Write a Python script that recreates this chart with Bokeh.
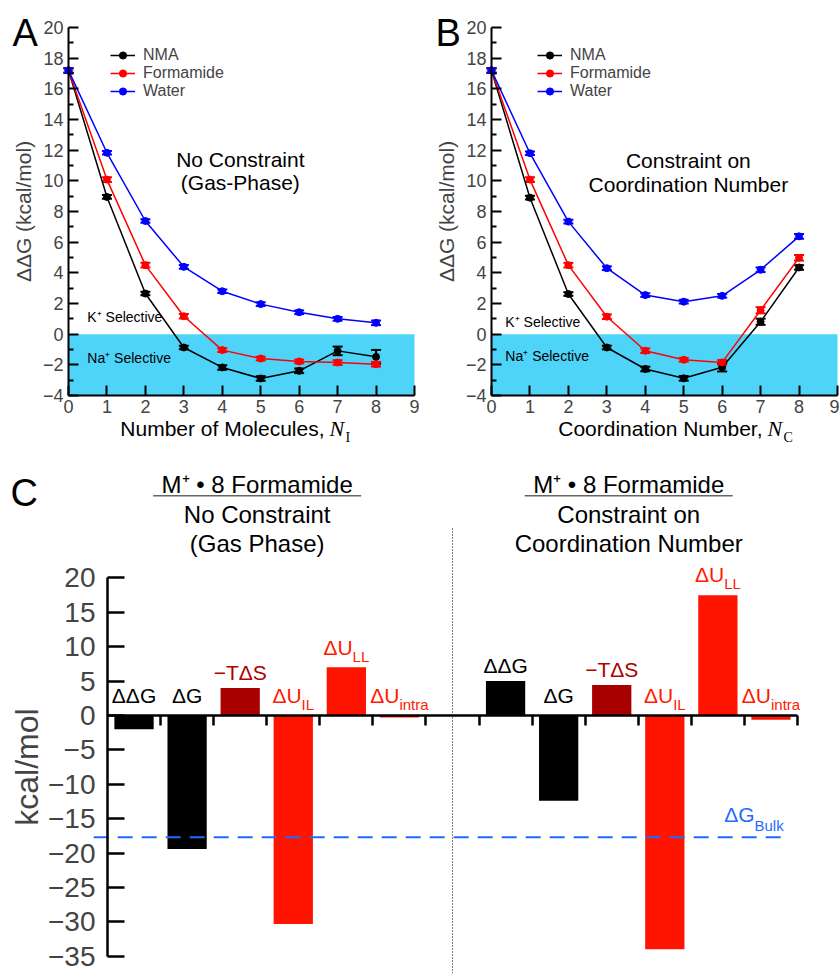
import numpy as np
from bokeh.plotting import figure
from bokeh.models import (Range1d, FixedTicker, LinearAxis, Whisker, TeeHead, ColumnDataSource,
                          BoxAnnotation, Label, Legend, LegendItem, CustomJSTickFormatter)
from bokeh.layouts import column, row
from bokeh.embed import file_html
from bokeh.resources import INLINE
from bokeh.core.properties import value

FONT = "Liberation Sans"
SERIF = "Liberation Serif"

# ---------------- data ----------------
n_values = [0, 1, 2, 3, 4, 5, 6, 7, 8]

# Panel A: no constraint (gas phase), x = number of molecules N_I
nma_A = [17.2, 8.95, 2.65, -0.87, -2.17, -2.89, -2.39, -1.09, -1.48]
nma_A_err = [0.15, 0.12, 0.12, 0.12, 0.15, 0.15, 0.15, 0.28, 0.45]
form_A = [17.2, 10.08, 4.50, 1.17, -1.04, -1.59, -1.78, -1.85, -1.96]
form_A_err = [0.15, 0.15, 0.15, 0.15, 0.12, 0.12, 0.12, 0.15, 0.15]
water_A = [17.2, 11.83, 7.38, 4.39, 2.80, 1.96, 1.43, 1.00, 0.74]
water_A_err = [0.15, 0.12, 0.12, 0.12, 0.12, 0.12, 0.12, 0.12, 0.15]

# Panel B: constraint on coordination number, x = N_C
nma_B = [17.2, 8.90, 2.62, -0.87, -2.27, -2.88, -2.16, 0.81, 4.35]
nma_B_err = [0.15, 0.12, 0.12, 0.12, 0.15, 0.15, 0.27, 0.20, 0.15]
form_B = [17.2, 10.08, 4.50, 1.14, -1.08, -1.67, -1.84, 1.56, 4.98]
form_B_err = [0.15, 0.15, 0.15, 0.15, 0.15, 0.12, 0.15, 0.20, 0.18]
water_B = [17.2, 11.80, 7.34, 4.30, 2.55, 2.12, 2.50, 4.20, 6.38]
water_B_err = [0.15, 0.12, 0.12, 0.12, 0.12, 0.12, 0.12, 0.15, 0.15]

series_names = ["NMA", "Formamide", "Water"]
series_colors = ["#000000", "#FF0000", "#0000FF"]
x_ticks_AB = [0, 1, 2, 3, 4, 5, 6, 7, 8, 9]
y_ticks_AB = [-4, -2, 0, 2, 4, 6, 8, 10, 12, 14, 16, 18, 20]

# Panel C: M+ . 8 Formamide decomposition (kcal/mol)
bar_main = ["ΔΔG", "ΔG", "−TΔS", "ΔU", "ΔU", "ΔU"]
bar_sub = ["", "", "", "IL", "LL", "intra"]
bar_colors = ["#000000", "#000000", "#A80000", "#FF1400", "#FF1400", "#FF1400"]
label_colors = ["#000000", "#000000", "#B00000", "#FF1A00", "#FF1A00", "#FF1A00"]
gas_values = [-2.0, -19.4, 4.0, -30.3, 7.0, -0.3]
cn_values = [5.0, -12.4, 4.45, -34.0, 17.5, -0.6]
dG_bulk = -17.7
y_ticks_C = [-35, -30, -25, -20, -15, -10, -5, 0, 5, 10, 15, 20]

# ---------------- helpers ----------------
ADV = {'Δ': 0.668, 'U': 0.722, 'G': 0.778, 'I': 0.278, 'L': 0.556, 'i': 0.222, 'n': 0.556,
       't': 0.278, 'r': 0.333, 'a': 0.556, 'B': 0.667, 'u': 0.556, 'l': 0.222, 'k': 0.5,
       '−': 0.584, 'T': 0.611, 'S': 0.667}
MID = 0.35  # middle of the text box above the baseline, in em


def text_w(s, size):
    return sum(ADV.get(c, 0.556) for c in s) * size


def lab(p, py, x, y_base, text, size, align="left", font=FONT, style="normal",
        color="black", x_offset=0):
    p.add_layout(Label(x=x, y=y_base + MID * size / py, text=text, text_font=font,
                       text_font_size=f"{size}px", text_font_style=style, text_color=color,
                       text_align=align, text_baseline="middle", x_offset=x_offset))


def make_panel(letter, series, errs, annot, annot_x, annot_y, sel_x, sel_y,
               xl_main, xl_sub, xl_anchor, width, frame_left, legend_x):
    height = 453
    frame_top, frame_h, frame_w = 27, 368, 346
    px = frame_w / 9.0
    py = frame_h / 24.0
    x0 = -frame_left / px
    x1 = x0 + width / px
    y1 = 20 + frame_top / py
    y0 = y1 - height / py
    p = figure(width=width, height=height, x_range=Range1d(x0, x1), y_range=Range1d(y0, y1),
               output_backend="svg", toolbar_location=None, x_axis_type=None, y_axis_type=None,
               min_border_left=0, min_border_right=0, min_border_top=0, min_border_bottom=0)
    p.grid.visible = False
    p.outline_line_color = None
    p.add_layout(BoxAnnotation(left=x_ticks_AB[0], right=x_ticks_AB[-1], bottom=y_ticks_AB[0],
                               top=0, fill_color="#4ED4F8", fill_alpha=1.0,
                               line_color=None, level="underlay"))

    items = []
    for name, ys, er, col in zip(series_names, series, errs, series_colors):
        src = ColumnDataSource(dict(x=n_values, y=ys,
                                    upper=[a + b for a, b in zip(ys, er)],
                                    lower=[a - b for a, b in zip(ys, er)]))
        r1 = p.line("x", "y", source=src, line_color=col, line_width=1.5)
        r2 = p.scatter("x", "y", source=src, size=7, fill_color=col, line_color=col)
        p.add_layout(Whisker(source=src, base="x", upper="upper", lower="lower",
                             line_color=col, line_width=2,
                             upper_head=TeeHead(size=10, line_color=col, line_width=2),
                             lower_head=TeeHead(size=10, line_color=col, line_width=2)))
        items.append(LegendItem(label=name, renderers=[r1, r2]))

    leg = Legend(items=items, location=(legend_x, height - 46 - 54), margin=0, padding=0,
                 spacing=0, glyph_width=25, glyph_height=18, label_height=18, label_standoff=8,
                 label_text_font=FONT, label_text_font_size="16px",
                 border_line_color=None, background_fill_alpha=0)
    p.add_layout(leg)

    xa = LinearAxis(fixed_location=y_ticks_AB[0], bounds=(x_ticks_AB[0], x_ticks_AB[-1]),
                    ticker=FixedTicker(ticks=x_ticks_AB),
                    major_tick_in=10, major_tick_out=0, minor_tick_in=0, minor_tick_out=0,
                    axis_line_width=2, major_tick_line_width=2,
                    major_label_text_font=FONT, major_label_text_font_size="18px",
                    major_label_standoff=4)
    p.add_layout(xa, "below")

    ya = LinearAxis(fixed_location=x_ticks_AB[0], bounds=(y_ticks_AB[0], y_ticks_AB[-1]),
                    ticker=FixedTicker(ticks=y_ticks_AB,
                                       minor_ticks=[t + 1 for t in y_ticks_AB[:-1]]),
                    major_tick_in=10, major_tick_out=0, minor_tick_in=5, minor_tick_out=0,
                    axis_line_width=2, major_tick_line_width=2, minor_tick_line_width=2,
                    major_label_text_font=FONT, major_label_text_font_size="18px",
                    major_label_standoff=5, axis_label="ΔΔG (kcal/mol)",
                    axis_label_text_font=FONT, axis_label_text_font_size="21px",
                    axis_label_text_font_style="normal", axis_label_standoff=5)
    p.add_layout(ya, "left")

    # panel letter
    lab(p, py, -56 / px, 18.76, letter, 38)
    # annotation
    for t, yy in zip(annot, annot_y):
        lab(p, py, annot_x, yy, t, 21, align="center")
    lab(p, py, sel_x, sel_y[0], "K⁺ Selective", 14)
    lab(p, py, sel_x, sel_y[1], "Na⁺ Selective", 14)
    # x-axis title with italic N and subscript
    lab(p, py, xl_anchor, -6.65, xl_main, 21, align="right", x_offset=-5)
    lab(p, py, xl_anchor, -6.65, "N", 22, font=SERIF, style="italic")
    lab(p, py, xl_anchor, -6.65 - 6.5 / py, xl_sub, 14, font=SERIF, x_offset=16)
    return p


pA = make_panel("A", [nma_A, form_A, water_A], [nma_A_err, form_A_err, water_A_err],
                ["No Constraint", "(Gas-Phase)"], 4.47, [10.9, 9.39], 0.49, [0.78, -1.9],
                "Number of Molecules,", "I", 6.79, 420, 68, 110)
pB = make_panel("B", [nma_B, form_B, water_B], [nma_B_err, form_B_err, water_B_err],
                ["Constraint on", "Coordination Number"], 5.12, [10.86, 9.26], 0.36, [0.47, -1.73],
                "Coordination Number,", "C", 7.18, 419, 71, 117)

# ---------------- panel C ----------------
n_bars = len(gas_values)
gap_slot = n_bars + 1
n_slots = 2 * n_bars + 1
widthC, heightC = 839, 520
axis_left_px, zero_px = 107, 262
px_c = (797 - 107) / n_slots
py_c = (955 - 576.7) / 55.0
xc0 = -axis_left_px / px_c
xc1 = xc0 + widthC / px_c
yc1 = zero_px / py_c
yc0 = yc1 - heightC / py_c
pc = figure(width=widthC, height=heightC, x_range=Range1d(xc0, xc1), y_range=Range1d(yc0, yc1),
            output_backend="svg", toolbar_location=None, x_axis_type=None, y_axis_type=None,
            min_border_left=0, min_border_right=0, min_border_top=0, min_border_bottom=0)
pc.grid.visible = False
pc.outline_line_color = None

centers_gas = [i + 0.5 for i in range(n_bars)]
centers_cn = [i + 0.5 + gap_slot for i in range(n_bars)]

for centers, vals in ((centers_gas, gas_values), (centers_cn, cn_values)):
    pc.vbar(x=centers, top=vals, bottom=0, width=0.74, fill_color=bar_colors, line_color=None)
    mx, my, mxo, sx, sy, sxo = [], [], [], [], [], []
    for c, v, m, s in zip(centers, vals, bar_main, bar_sub):
        base = max(v, 0)
        gap = 8 if (v > 0 and not s) else 13
        wm = text_w(m, 21)
        ws = text_w(s, 15)
        W = wm + ws
        mx.append(c); my.append(base + (gap + MID * 21) / py_c); mxo.append(-W / 2)
        sx.append(c); sy.append(base + (gap - 7 + MID * 15) / py_c); sxo.append(-W / 2 + wm)
    pc.text(x=mx, y=my, text=bar_main, x_offset=mxo, text_color=label_colors,
            text_font=value(FONT), text_font_size="21px", text_align="left",
            text_baseline="middle")
    pc.text(x=sx, y=sy, text=bar_sub, x_offset=sxo, text_color=label_colors,
            text_font=value(FONT), text_font_size="15px", text_align="left",
            text_baseline="middle")

# bulk solvation reference line
bulk_overhang = 0.26
bulk_x0 = -bulk_overhang
bulk_x1 = n_slots - bulk_overhang
pc.segment(x0=[bulk_x0], y0=[dG_bulk], x1=[bulk_x1], y1=[dG_bulk], line_color="#1F6BFF",
           line_width=2, line_dash="15 9")
wsub = text_w("Bulk", 15)
pc.text(x=[bulk_x1], y=[dG_bulk + (15 + MID * 21) / py_c], text=["ΔG"], x_offset=-wsub,
        text_color="#1F6BFF", text_font=value(FONT), text_font_size="21px",
        text_align="right", text_baseline="middle")
pc.text(x=[bulk_x1], y=[dG_bulk + (6 + MID * 15) / py_c], text=["Bulk"], text_color="#1F6BFF",
        text_font=value(FONT), text_font_size="15px", text_align="right", text_baseline="middle")

# divider between the two conditions
div_x = n_bars + 0.5
pc.segment(x0=[div_x], y0=[yc0], x1=[div_x], y1=[27.3], line_color="#000000",
           line_width=1, line_dash="1 2")

# titles
title_shift = -0.18
for centers, sub_lines in ((centers_gas, ["No Constraint", "(Gas Phase)"]),
                           (centers_cn, ["Constraint on", "Coordination Number"])):
    gx = float(np.mean(centers)) + title_shift
    lab(pc, py_c, gx, 32.33, "M⁺ • 8 Formamide", 24, align="center")
    yu = 32.33 - 2.5 / py_c
    pc.segment(x0=[gx - 1.96], y0=[yu], x1=[gx + 1.96], y1=[yu],
               line_color="#666666", line_width=1.5)
    lab(pc, py_c, gx, 28.0, sub_lines[0], 24, align="center")
    lab(pc, py_c, gx, 23.8, sub_lines[1], 24, align="center")

lab(pc, py_c, -97 / px_c, 30.46, "C", 38)

xa_c = LinearAxis(fixed_location=0, ticker=FixedTicker(ticks=list(range(1, n_slots + 1))),
                  bounds=(0, n_slots), major_tick_out=10, major_tick_in=0,
                  minor_tick_in=0, minor_tick_out=0, axis_line_width=2.5,
                  major_tick_line_width=2.5,
                  formatter=CustomJSTickFormatter(code="return ''"))
pc.add_layout(xa_c, "below")

ya_c = LinearAxis(fixed_location=0, ticker=FixedTicker(ticks=y_ticks_C),
                  bounds=(y_ticks_C[0], y_ticks_C[-1]), major_tick_in=17, major_tick_out=0,
                  minor_tick_in=0, minor_tick_out=0, axis_line_width=2.5,
                  major_tick_line_width=2.5, major_label_text_font=FONT,
                  major_label_text_font_size="28px", major_label_standoff=12,
                  axis_label="kcal/mol", axis_label_text_font=FONT,
                  axis_label_text_font_size="32px", axis_label_text_font_style="normal",
                  axis_label_standoff=0)
pc.add_layout(ya_c, "left")

layout = column(row(pA, pB), pc)
open("out.html", "w").write(file_html(layout, INLINE))
